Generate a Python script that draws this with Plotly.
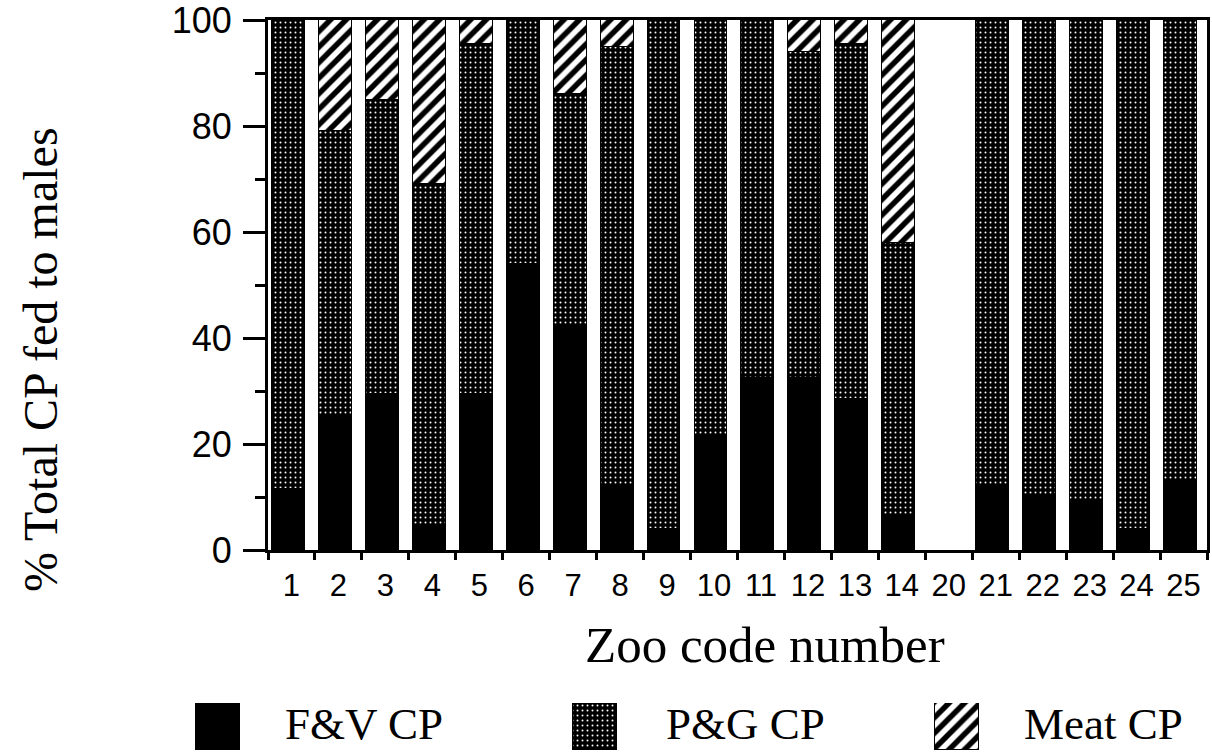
import plotly.graph_objects as go

# ---- data ----
zoo_codes = ["1", "2", "3", "4", "5", "6", "7", "8", "9", "10", "11", "12", "13", "14",
             "20", "21", "22", "23", "24", "25"]
fv_cp =   [11.5, 25.5, 29.5, 4.5, 29.5, 54, 42, 12, 4, 21.5, 32.5, 32.5, 28.5, 6.5,
           0, 12, 10, 9.5, 4, 13]
pg_cp =   [88.5, 53.5, 55.5, 64.5, 66, 46, 44, 83, 96, 78.5, 67.5, 61.5, 67, 51.5,
           0, 88, 90, 90.5, 96, 87]
meat_cp = [0, 21, 15, 31, 4.5, 0, 14, 5, 0, 0, 0, 6, 4.5, 42,
           0, 0, 0, 0, 0, 0]
series_names = ["F&V CP", "P&G CP", "Meat CP"]
y_ticks = [0, 20, 40, 60, 80, 100]

W, H = 1212, 753
plot_left, plot_right, plot_top, plot_bottom = 268, 1207, 20, 550


def make_marker(kind, vals=None):
    lw = 1.5 if vals is None else [1.5 if v > 0 else 0 for v in vals]
    line = dict(color="black", width=lw)
    if kind == 0:
        return dict(color="black", line=line)
    if kind == 1:
        return dict(color="black", line=line,
                    pattern=dict(shape=".", bgcolor="black", fgcolor="white", size=5,
                                 solidity=0.12, fillmode="replace"))
    return dict(color="white", line=line,
                pattern=dict(shape="/", bgcolor="white", fgcolor="black", size=11,
                             solidity=0.5, fillmode="replace"))


fig = go.Figure()
for i, (name, vals) in enumerate(zip(series_names, [fv_cp, pg_cp, meat_cp])):
    fig.add_trace(go.Bar(x=zoo_codes, y=vals, name=name, marker=make_marker(i, vals),
                         width=0.70, offset=-0.415, showlegend=False,
                         xaxis="x", yaxis="y"))

# legend swatches drawn as bars on a hidden helper axis
legend_x = [218, 595, 957]
legend_text_x = [283, 664, 1022]
for i, (name, lx) in enumerate(zip(series_names, legend_x)):
    fig.add_trace(go.Bar(x=[lx], y=[1], width=44, marker=make_marker(i), showlegend=False,
                         hoverinfo="skip", xaxis="x2", yaxis="y2"))

serif = "Liberation Serif"
sans = "Liberation Sans"

annotations = []
for name, tx in zip(series_names, legend_text_x):
    annotations.append(dict(text=name, x=tx / W, y=1 - 724 / H, xref="paper", yref="paper",
                            xanchor="left", yanchor="middle", showarrow=False,
                            font=dict(family=serif, size=45, color="black")))
annotations.append(dict(text="Zoo code number", x=583 / W, y=1 - 645 / H,
                        xref="paper", yref="paper", xanchor="left", yanchor="middle",
                        showarrow=False, font=dict(family=serif, size=51, color="black")))
annotations.append(dict(text="% Total CP fed to males", x=40 / W, y=1 - 360 / H,
                        xref="paper", yref="paper", xanchor="center", yanchor="middle",
                        textangle=-90, showarrow=False,
                        font=dict(family=serif, size=48, color="black")))

fig.update_layout(
    width=W, height=H,
    margin=dict(l=0, r=0, t=0, b=0, autoexpand=False),
    paper_bgcolor="white", plot_bgcolor="white",
    barmode="stack", bargap=0,
    xaxis=dict(domain=[plot_left / W, plot_right / W], type="category",
               categoryorder="array", categoryarray=zoo_codes,
               range=[-0.5, len(zoo_codes) - 0.5],
               showline=True, linecolor="black", linewidth=3, mirror=True,
               ticks="outside", tickson="boundaries", ticklen=7, tickwidth=3,
               tickcolor="black", showgrid=False, zeroline=False,
               tickfont=dict(family=sans, size=31, color="black"),
               ticklabelstandoff=6),
    yaxis=dict(domain=[1 - plot_bottom / H, 1 - plot_top / H], range=[0, 100],
               tickvals=y_ticks, ticktext=[str(v) for v in y_ticks],
               ticklabeloverflow="allow",
               showline=True, linecolor="black", linewidth=3, mirror=True,
               ticks="outside", ticklen=22, tickwidth=3, tickcolor="black",
               minor=dict(ticks="outside", ticklen=10, tickwidth=3, tickcolor="black",
                          dtick=10, showgrid=False),
               showgrid=False, zeroline=False,
               tickfont=dict(family=sans, size=36, color="black"),
               ticklabelstandoff=4),
    xaxis2=dict(domain=[0, 1], range=[0, W], visible=False, fixedrange=True),
    yaxis2=dict(domain=[3 / H, 50 / H], range=[0, 1], visible=False, fixedrange=True),
    annotations=annotations,
)

fig.write_html("out.html")
